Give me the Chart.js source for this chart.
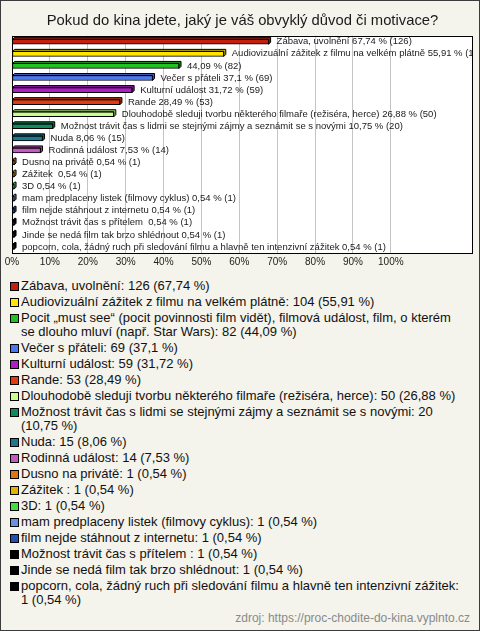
<!DOCTYPE html>
<html>
<head>
<meta charset="utf-8">
<script src="https://cdn.jsdelivr.net/npm/chart.js@4.4.1/dist/chart.umd.min.js"></script>
<style>
  html, body { margin: 0; padding: 0; }
  #box {
    position: relative;
    width: 480px; height: 631px;
    box-sizing: border-box;
    border: 1px solid #3c3c3c;
    background: #f4f3ec;
    font-family: "Liberation Sans", Arial, sans-serif;
    overflow: hidden;
  }
  #chartWrap { position: absolute; left: -1px; top: -1px; width: 480px; height: 273px; }
  #legend { position: absolute; left: 9px; top: 278px; width: 457px; color: #111; font-size: 13px; line-height: 14px; }
  .item { display: flex; align-items: flex-start; margin-bottom: 2px; }
  .sq { flex: none; width: 7px; height: 7px; border: 1px solid #000; margin: 3px 2px 0 0; }
  #src { position: absolute; right: 9px; top: 610px; color: #8a8a8a; font-size: 12px; }
</style>
</head>
<body>
<div id="box">
  <div id="chartWrap"><canvas id="myBarChart" width="480" height="273"></canvas></div>
  <div id="legend"></div>
  <div id="src">zdroj: https://proc-chodite-do-kina.vyplnto.cz</div>
</div>
<script>
const categories = [
    'Zábava, uvolnění',
    'Audiovizuální zážitek z filmu na velkém plátně',
    'Pocit „must see“ (pocit povinnosti film vidět), filmová událost, film, o kterém se dlouho mluví (např. Star Wars)',
    'Večer s přáteli',
    'Kulturní událost',
    'Rande',
    'Dlouhodobě sleduji tvorbu některého filmaře (režiséra, herce)',
    'Možnost trávit čas s lidmi se stejnými zájmy a seznámit se s novými',
    'Nuda',
    'Rodinná událost',
    'Dusno na privátě',
    'Zážitek ',
    '3D',
    'mam predplaceny listek (filmovy cyklus)',
    'film nejde stáhnout z internetu',
    'Možnost trávit čas s přítelem ',
    'Jinde se nedá film tak brzo shlédnout',
    'popcorn, cola, žádný ruch při sledování filmu a hlavně ten intenzivní zážitek'
];
const counts = [126, 104, 82, 69, 59, 53, 50, 20, 15, 14, 1, 1, 1, 1, 1, 1, 1, 1];
const percents = [67.74, 55.91, 44.09, 37.1, 31.72, 28.49, 26.88, 10.75, 8.06, 7.53, 0.54, 0.54, 0.54, 0.54, 0.54, 0.54, 0.54, 0.54];
const colors = ['#c2210f', '#ffe500', '#22c122', '#4b78f0', '#b01cc8', '#e23d10', '#c8ff8c', '#118a5c', '#1f7890',
    '#c25ac2', '#e27212', '#e2b200', '#40e040', '#6890e0', '#2250b2', '#000000', '#000000', '#000000'];
const tickPercents = [0, 10, 20, 30, 40, 50, 60, 70, 80, 90, 100];

const fmt = v => String(v).replace('.', ',');
// the reference leaves out the long name next to the third bar
const barTexts = categories.map((c, i) => (i === 2 ? '' : c + ' ') + fmt(percents[i]) + ' % (' + counts[i] + ')');

const FONT = '"Liberation Sans", Arial, sans-serif';
const DEPTH = 2;

function shade(hex, f) {
    const n = parseInt(hex.slice(1), 16);
    const r = Math.round(((n >> 16) & 255) * f), g = Math.round(((n >> 8) & 255) * f), b = Math.round((n & 255) * f);
    return `rgb(${r},${g},${b})`;
}

const framePlugin = {
    id: 'frame',
    beforeDraw(chart) {
        const a = chart.chartArea, ctx = chart.ctx;
        ctx.save();
        ctx.fillStyle = '#ffffff';
        ctx.fillRect(a.left, a.top, a.right - a.left, a.bottom - a.top);
        ctx.restore();
    },
    afterDatasetsDraw(chart) {
        const ctx = chart.ctx, a = chart.chartArea;
        const bars = chart.getDatasetMeta(0).data;
        ctx.save();
        ctx.lineWidth = 1;
        ctx.strokeStyle = '#000';
        bars.forEach((bar, i) => {
            const top = bar.y - bar.height / 2, bottom = bar.y + bar.height / 2;
            ctx.fillStyle = shade(colors[i], 0.75);
            ctx.beginPath();
            ctx.moveTo(bar.base, top);
            ctx.lineTo(bar.base + DEPTH, top - DEPTH);
            ctx.lineTo(bar.x + DEPTH, top - DEPTH);
            ctx.lineTo(bar.x + DEPTH, bottom - DEPTH);
            ctx.lineTo(bar.x, bottom);
            ctx.lineTo(bar.x, top);
            ctx.closePath();
            ctx.fill();
            ctx.stroke();
        });
        // value texts, cut at the plot frame
        ctx.beginPath();
        ctx.rect(a.left, a.top, a.right - a.left, a.bottom - a.top);
        ctx.clip();
        ctx.fillStyle = '#1a1a1a';
        ctx.font = '9.5px ' + FONT;
        ctx.textBaseline = 'middle';
        bars.forEach((bar, i) => {
            ctx.fillText(barTexts[i], bar.x + DEPTH + 6, bar.y);
        });
        ctx.restore();
    },
    afterDraw(chart) {
        const a = chart.chartArea, ctx = chart.ctx;
        ctx.save();
        ctx.strokeStyle = '#000';
        ctx.lineWidth = 1;
        ctx.strokeRect(Math.round(a.left) + 0.5, Math.round(a.top) + 0.5, Math.round(a.right - a.left) - 1, Math.round(a.bottom - a.top));
        ctx.restore();
    }
};

const ctx = document.getElementById('myBarChart').getContext('2d');
const myBarChart = new Chart(ctx, {
    type: 'bar',
    data: {
        labels: categories,
        datasets: [{
            data: percents,
            backgroundColor: colors,
            borderColor: '#000',
            borderWidth: 1,
            borderSkipped: false,
            barThickness: 5,
        }]
    },
    options: {
        indexAxis: 'y',
        responsive: false,
        animation: false,
        layout: { padding: { left: 12, right: 7, bottom: 2 } },
        scales: {
            x: {
                min: 0,
                max: 121.7,
                afterBuildTicks: scale => { scale.ticks = tickPercents.map(v => ({ value: v })); },
                ticks: {
                    autoSkip: false,
                    maxRotation: 0,
                    padding: 3,
                    color: '#222',
                    font: { family: FONT, size: 10 },
                    callback: v => v + '%',
                },
                grid: { color: '#c4c4c4', drawTicks: false },
                border: { display: false },
            },
            y: { display: false }
        },
        plugins: {
            legend: { display: false },
            tooltip: { enabled: false },
            title: {
                display: true,
                text: 'Pokud do kina jdete, jaký je váš obvyklý důvod či motivace?',
                color: '#1a1a1a',
                font: { family: FONT, size: 14.8, weight: 'normal' },
                padding: { top: 12, bottom: 6 },
            }
        }
    },
    plugins: [framePlugin]
});

// legend below the chart, built from the same arrays
const legend = document.getElementById('legend');
categories.forEach((c, i) => {
    const row = document.createElement('div');
    row.className = 'item';
    const sq = document.createElement('span');
    sq.className = 'sq';
    sq.style.background = colors[i];
    const txt = document.createElement('span');
    txt.textContent = c + ': ' + counts[i] + ' (' + fmt(percents[i]) + ' %)';
    row.appendChild(sq);
    row.appendChild(txt);
    legend.appendChild(row);
});
</script>
</body>
</html>
